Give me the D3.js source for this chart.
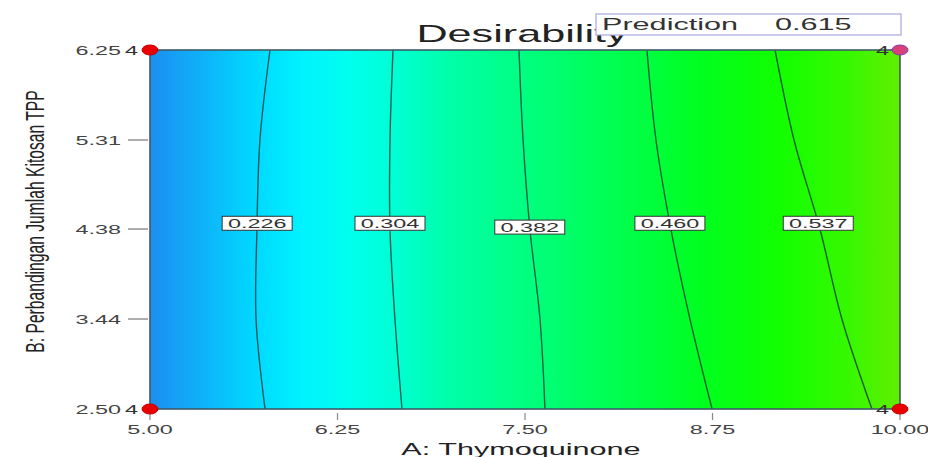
<!DOCTYPE html>
<html><head><meta charset="utf-8">
<script src="https://cdn.jsdelivr.net/npm/d3@7"></script>
<style>body{margin:0;background:#fff}svg{display:block}</style>
</head><body>
<svg id="c" width="928" height="457"></svg>
<script>
// ---- data ----
const title = "Desirability";
const xLabel = "A: Thymoquinone";
const yLabel = "B: Perbandingan Jumlah Kitosan TPP";
const xTicks = [5.00, 6.25, 7.50, 8.75, 10.00];
const yTicks = [2.50, 3.44, 4.38, 5.31, 6.25];
const levels = [0.226, 0.304, 0.382, 0.460, 0.537];
const bGrid = [6.25, 5.3125, 4.375, 3.4375, 2.50];
const contourA = [
  [5.800, 5.733, 5.713, 5.707, 5.767],
  [6.620, 6.600, 6.600, 6.633, 6.680],
  [7.460, 7.487, 7.533, 7.600, 7.633],
  [8.313, 8.373, 8.473, 8.600, 8.747],
  [9.167, 9.293, 9.467, 9.613, 9.813]
];
const labelB = [4.44, 4.44, 4.40, 4.44, 4.44];
const designPoints = [[5, 6.25, 4], [10, 6.25, 4], [5, 2.5, 4], [10, 2.5, 4]];
const predictionLabel = "Prediction";
const predictionValue = 0.615;
// colour ramp (A position -> colour)
const rampA = [5.0, 5.33, 5.67, 6.0, 6.33, 6.67, 7.0, 7.5, 8.0, 8.67, 9.2, 9.67, 10.0];
const rampC = ["#1c8ef0", "#10b0f8", "#00d6ff", "#00f2ff", "#00ffee", "#00ffd0", "#00ffa8",
               "#00ff80", "#00ff58", "#00ff20", "#12ff00", "#38f800", "#62ee00"];

// ---- layout ----
const svg = d3.select("#c");
const L = 150, R = 900, T = 50, B = 409;
const SX = 1.8; // horizontal stretch of the picture's text
const x = d3.scaleLinear().domain([5, 10]).range([L, R]);
const y = d3.scaleLinear().domain([2.5, 6.25]).range([B, T]);
const font = "'Liberation Sans', Arial, sans-serif";

function stext(g, px, py, str, size, anchor, fill, weight) {
  return g.append("text")
    .attr("transform", `translate(${px},${py}) scale(${SX},1)`)
    .attr("text-anchor", anchor || "middle")
    .attr("font-family", font).attr("font-size", size)
    .attr("font-weight", weight || "normal")
    .attr("fill", fill || "#333").text(str);
}

// gradient
const defs = svg.append("defs");
const grad = defs.append("linearGradient").attr("id", "g")
  .attr("gradientUnits", "userSpaceOnUse")
  .attr("x1", L).attr("x2", R).attr("y1", 0).attr("y2", 0);
rampA.forEach((a, i) => grad.append("stop")
  .attr("offset", (x(a) - L) / (R - L)).attr("stop-color", rampC[i]));

svg.append("rect").attr("x", L).attr("y", T).attr("width", R - L).attr("height", B - T)
  .attr("fill", "url(#g)");

// contours
const line = d3.line().x(d => x(d[0])).y(d => y(d[1])).curve(d3.curveCatmullRom);
const cg = svg.append("g");
contourA.forEach((row, i) => {
  const pts = row.map((a, j) => [a, bGrid[j]]);
  cg.append("path").attr("d", line(pts)).attr("fill", "none")
    .attr("stroke", "#103838").attr("stroke-opacity", 0.8).attr("stroke-width", 1.4);
});

// border
svg.append("rect").attr("x", L).attr("y", T).attr("width", R - L).attr("height", B - T)
  .attr("fill", "none").attr("stroke", "#3e5a6a").attr("stroke-width", 1.6);

// contour labels
contourA.forEach((row, i) => {
  const bl = labelB[i];
  let a = row[0];
  for (let j = 0; j < bGrid.length - 1; j++) {
    if (bl <= bGrid[j] && bl >= bGrid[j + 1]) {
      const t = (bGrid[j] - bl) / (bGrid[j] - bGrid[j + 1]);
      a = row[j] + t * (row[j + 1] - row[j]);
    }
  }
  const cx = x(a), cy = y(bl);
  svg.append("rect").attr("x", cx - 35).attr("y", cy - 7).attr("width", 70).attr("height", 14)
    .attr("fill", "#fff").attr("stroke", "#333").attr("stroke-width", 1);
  stext(svg, cx, cy + 5, levels[i].toFixed(3), 13, "middle", "#333");
});

// x axis
xTicks.forEach(t => {
  svg.append("line").attr("x1", x(t)).attr("x2", x(t)).attr("y1", 413).attr("y2", 420)
    .attr("stroke", "#888").attr("stroke-width", 1.2);
  stext(svg, x(t), 434, t.toFixed(2), 13, "middle", "#444");
});
stext(svg, (L + R) / 2 - 4, 455, xLabel, 17, "middle", "#222");

// y axis
yTicks.forEach(t => {
  const corner = (t === 2.5 || t === 6.25);
  if (!corner) {
    svg.append("line").attr("x1", 128).attr("x2", 148).attr("y1", y(t)).attr("y2", y(t))
      .attr("stroke", "#777").attr("stroke-width", 1.2);
  }
  stext(svg, 121, y(t) + 5, t.toFixed(2), 13, "end", "#444");
});
svg.append("text")
  .attr("transform", `translate(44,${(T + B) / 2 - 8}) rotate(-90) scale(0.745,1.2)`)
  .attr("text-anchor", "middle").attr("font-family", font).attr("font-size", 21)
  .attr("fill", "#222").text(yLabel);

// design points
designPoints.forEach(([a, b, n], i) => {
  const px = x(a), py = y(b);
  const isPred = (a === 10 && b === 6.25);
  const lx = a === 5 ? px - 12 : px - 11;
  stext(svg, lx, py + 5, String(n), 13, "end", "#333");
  svg.append("ellipse").attr("cx", px).attr("cy", py).attr("rx", 8).attr("ry", 5)
    .attr("fill", isPred ? "#d8407c" : "#e80000")
    .attr("stroke", isPred ? "#8040a0" : "#c00000").attr("stroke-width", 1);
});

// title
stext(svg, 522, 42, title, 24, "middle", "#222");

// prediction box
svg.append("rect").attr("x", 596).attr("y", 14).attr("width", 305).attr("height", 21)
  .attr("fill", "#fff").attr("stroke", "#a8a8e0").attr("stroke-width", 1.2);
stext(svg, 602, 30, predictionLabel, 17, "start", "#333");
stext(svg, 775, 30, predictionValue.toFixed(3), 17, "start", "#333");
</script>
</body></html>
